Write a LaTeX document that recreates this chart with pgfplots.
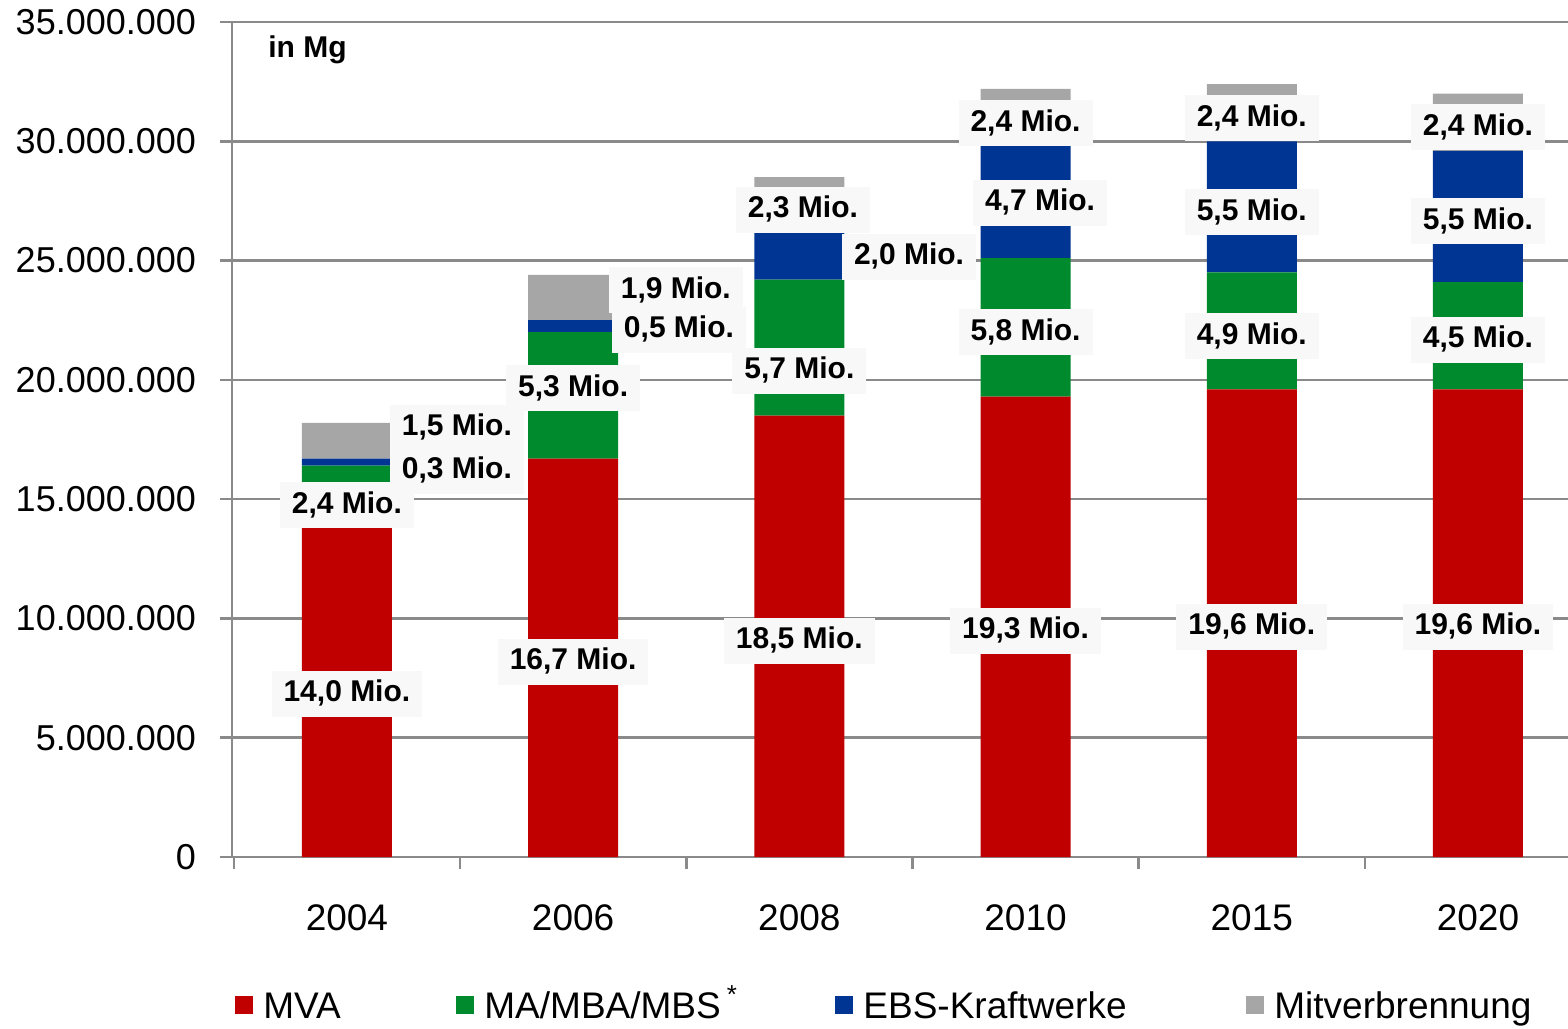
\documentclass[border=0pt]{standalone}
\usepackage{pgfplots}
\pgfplotsset{compat=1.18}
\usepackage{fontspec}
\setmainfont{Liberation Sans}

\definecolor{mva}{RGB}{192,0,0}
\definecolor{mba}{RGB}{0,138,46}
\definecolor{ebs}{RGB}{0,53,148}
\definecolor{mit}{RGB}{166,166,166}
\definecolor{gridc}{RGB}{138,138,138}
\definecolor{lblbg}{RGB}{248,248,248}

\tikzset{lbl/.style={fill=lblbg, font=\fontsize{15}{18}\selectfont\bfseries,
  inner xsep=6pt, inner ysep=4.5pt, text height=11pt, text depth=3pt, yshift=-1.5pt}}

\begin{document}
\begin{tikzpicture}
\useasboundingbox (-116pt,-85.5pt) rectangle (668pt,428.5pt);
\begin{axis}[
    scale only axis,
    width=668pt, height=417.5pt,
    ybar stacked, bar width=45pt, bar shift=0pt,
    xmin=-0.508, xmax=5.398,
    ymin=0, ymax=35000000,
    axis x line*=bottom, axis y line*=left,
    axis line style={gridc, line width=1.3pt},
    tick align=outside,
    major tick length=6pt,
    tick style={gridc, line width=1.3pt},
    xtick={-0.5,0.5,1.5,2.5,3.5,4.5},
    xticklabels={},
    extra x ticks={0,1,2,3,4,5},
    extra x tick labels={2004,2006,2008,2010,2015,2020},
    extra x tick style={major tick length=0pt,
      xticklabel style={anchor=base, yshift=-42.5pt+6pt}},
    ytick={0,5000000,...,35000000},
    scaled y ticks=false,
    ymajorgrids,
    grid style={gridc, line width=1.3pt},
    /pgf/number format/assume math mode=true,
    yticklabel style={/pgf/number format/fixed, /pgf/number format/1000 sep={.},
      font=\fontsize{18}{21}\selectfont, xshift=-8.5pt},
    xticklabel style={font=\fontsize{18.5}{21}\selectfont},
    legend columns=4,
    legend style={draw=none, fill=none, at={(0,0)}, anchor=west,
      xshift=1.5pt, yshift=-75.5pt, inner sep=0pt,
      font=\fontsize{18.5}{21}\selectfont,
      nodes={inner sep=0pt, text height=13.5pt, text depth=3.5pt},
      /tikz/every even column/.append style={column sep=0pt}},
    legend image code/.code={\fill[#1] (0pt,-3pt) rectangle (9pt,6pt);},
]
\addplot[fill=mva, draw=none] coordinates {
  (0,14000000) (1,16700000) (2,18500000) (3,19300000) (4,19600000) (5,19600000)};
\addplot[fill=mba, draw=none] coordinates {
  (0,2400000) (1,5300000) (2,5700000) (3,5800000) (4,4900000) (5,4500000)};
\addplot[fill=ebs, draw=none] coordinates {
  (0,300000) (1,500000) (2,2000000) (3,4700000) (4,5500000) (5,5500000)};
\addplot[fill=mit, draw=none] coordinates {
  (0,1500000) (1,1900000) (2,2300000) (3,2400000) (4,2400000) (5,2400000)};
\addlegendentry{\makebox[101.5pt][l]{\hspace{5pt}MVA}}
\addlegendentry{\makebox[180.5pt][l]{\hspace{5pt}MA/MBA/MBS\,\raisebox{1pt}{\textsuperscript{*}}}}
\addlegendentry{\makebox[196.5pt][l]{\hspace{5pt}EBS-Kraftwerke}}
\addlegendentry{\hspace{5pt}Mitverbrennung}

% label anchors
\coordinate (a1) at (axis cs:0,6960000);
\coordinate (a2) at (axis cs:0,14880000);
\coordinate (a3) at (axis cs:0.486,16310000);
\coordinate (a4) at (axis cs:0.486,18110000);
\coordinate (b1) at (axis cs:1,8300000);
\coordinate (b2) at (axis cs:1,19780000);
\coordinate (b3) at (axis cs:1.468,22220000);
\coordinate (b4) at (axis cs:1.454,23890000);
\coordinate (c1) at (axis cs:2,9180000);
\coordinate (c2) at (axis cs:2,20500000);
\coordinate (c3) at (axis cs:2.485,25280000);
\coordinate (c4) at (axis cs:2.016,27250000);
\coordinate (d1) at (axis cs:3,9600000);
\coordinate (d2) at (axis cs:3,22130000);
\coordinate (d3) at (axis cs:3.064,27540000);
\coordinate (d4) at (axis cs:3,30890000);
\coordinate (e1) at (axis cs:4,9770000);
\coordinate (e2) at (axis cs:4,21960000);
\coordinate (e3) at (axis cs:4,27160000);
\coordinate (e4) at (axis cs:4,31100000);
\coordinate (f1) at (axis cs:5,9770000);
\coordinate (f2) at (axis cs:5,21800000);
\coordinate (f3) at (axis cs:5,26780000);
\coordinate (f4) at (axis cs:5,30720000);
\coordinate (unit) at (axis cs:-0.349,33950000);
\end{axis}
\node[lbl] at (a1) {14,0 Mio.};
\node[lbl] at (a2) {2,4 Mio.};
\node[lbl] at (a3) {0,3 Mio.};
\node[lbl] at (a4) {1,5 Mio.};
\node[lbl] at (b1) {16,7 Mio.};
\node[lbl] at (b2) {5,3 Mio.};
\node[lbl] at (b3) {0,5 Mio.};
\node[lbl] at (b4) {1,9 Mio.};
\node[lbl] at (c1) {18,5 Mio.};
\node[lbl] at (c2) {5,7 Mio.};
\node[lbl] at (c3) {2,0 Mio.};
\node[lbl] at (c4) {2,3 Mio.};
\node[lbl] at (d1) {19,3 Mio.};
\node[lbl] at (d2) {5,8 Mio.};
\node[lbl] at (d3) {4,7 Mio.};
\node[lbl] at (d4) {2,4 Mio.};
\node[lbl] at (e1) {19,6 Mio.};
\node[lbl] at (e2) {4,9 Mio.};
\node[lbl] at (e3) {5,5 Mio.};
\node[lbl] at (e4) {2,4 Mio.};
\node[lbl] at (f1) {19,6 Mio.};
\node[lbl] at (f2) {4,5 Mio.};
\node[lbl] at (f3) {5,5 Mio.};
\node[lbl] at (f4) {2,4 Mio.};
\node[anchor=west, inner sep=0pt, yshift=-1.5pt, font=\fontsize{15}{18}\selectfont\bfseries]
  at (unit) {in Mg};
\end{tikzpicture}
\end{document}
